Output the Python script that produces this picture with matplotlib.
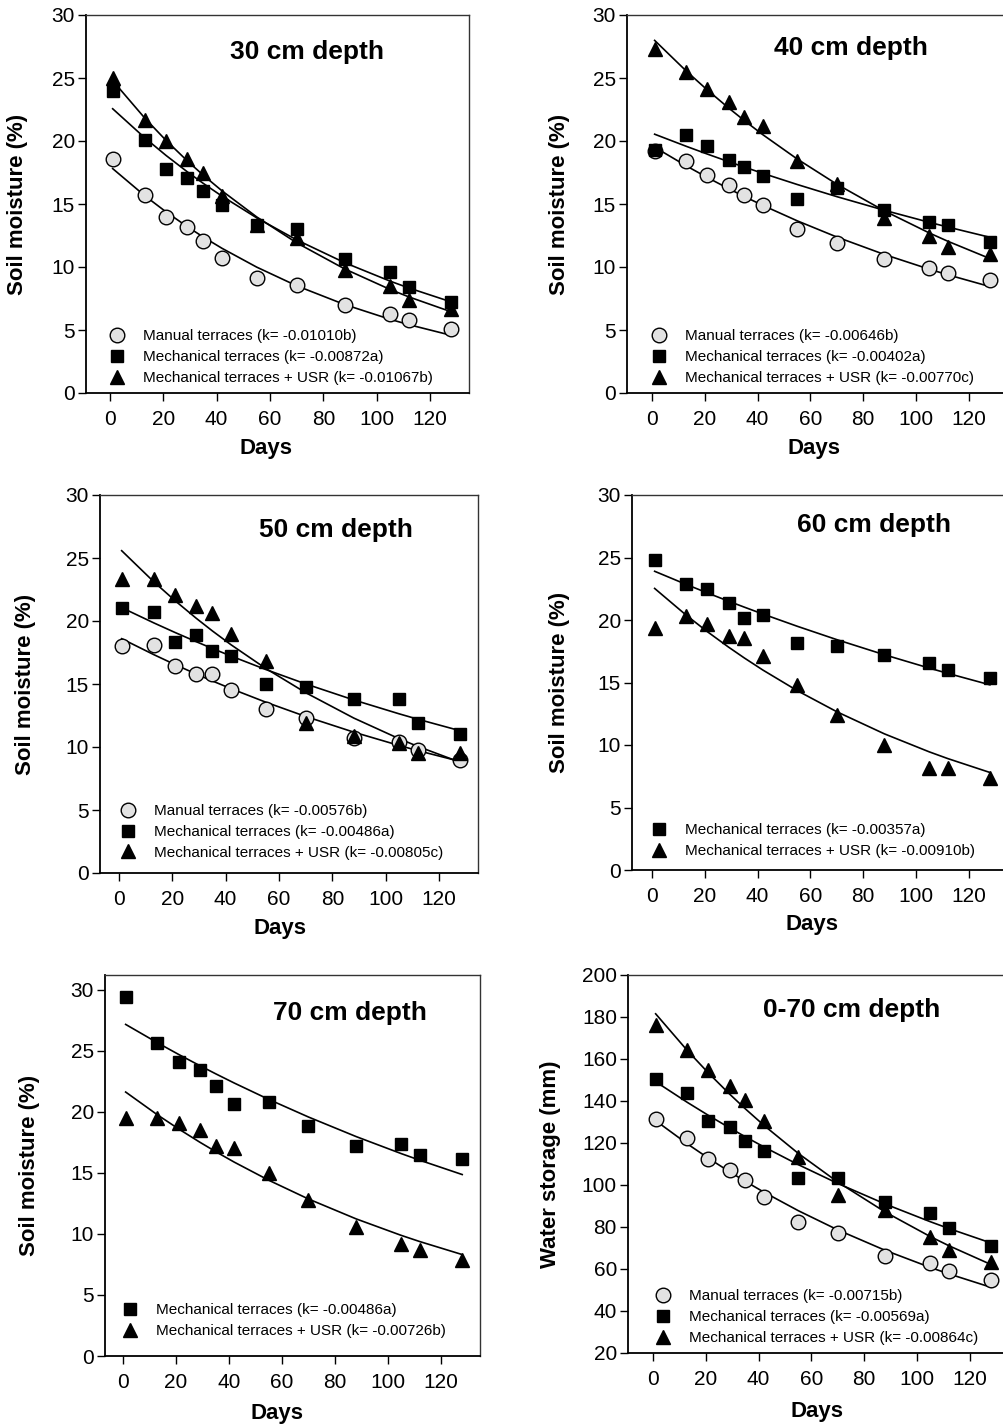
import numpy as np
import matplotlib
matplotlib.use('Agg')
import matplotlib.pyplot as plt
from matplotlib.lines import Line2D

plt.rcParams['font.family'] = ['Liberation Sans', 'DejaVu Sans']

# sampling days (same for every panel)
days = [1, 13, 21, 29, 35, 42, 55, 70, 88, 105, 112, 128]

# 30 cm depth, soil moisture (%)
manual_30 = [18.6, 15.7, 14.0, 13.2, 12.1, 10.7, 9.1, 8.6, 7.0, 6.3, 5.8, 5.1]
mech_30 = [24.0, 20.1, 17.8, 17.1, 16.0, 14.9, 13.3, 13.0, 10.6, 9.6, 8.4, 7.2]
usr_30 = [25.0, 21.7, 20.0, 18.6, 17.5, 15.6, 13.3, 12.3, 9.8, 8.5, 7.4, 6.7]
k_30 = ['-0.01010b', '-0.00872a', '-0.01067b']

# 40 cm depth
manual_40 = [19.2, 18.4, 17.3, 16.5, 15.7, 14.9, 13.0, 11.9, 10.6, 9.9, 9.5, 9.0]
mech_40 = [19.3, 20.5, 19.6, 18.5, 17.9, 17.2, 15.4, 16.3, 14.5, 13.6, 13.3, 12.0]
usr_40 = [27.3, 25.5, 24.1, 23.1, 21.9, 21.2, 18.4, 16.6, 13.9, 12.5, 11.6, 11.0]
k_40 = ['-0.00646b', '-0.00402a', '-0.00770c']

# 50 cm depth
manual_50 = [18.0, 18.1, 16.4, 15.8, 15.8, 14.5, 13.0, 12.3, 10.7, 10.4, 9.8, 9.0]
mech_50 = [21.0, 20.7, 18.3, 18.9, 17.6, 17.2, 15.0, 14.8, 13.8, 13.8, 11.9, 11.0]
usr_50 = [23.3, 23.3, 22.1, 21.2, 20.6, 19.0, 16.8, 11.9, 10.9, 10.3, 9.5, 9.5]
k_50 = ['-0.00576b', '-0.00486a', '-0.00805c']

# 60 cm depth
mech_60 = [24.8, 22.9, 22.5, 21.4, 20.2, 20.4, 18.2, 17.9, 17.2, 16.6, 16.0, 15.4]
usr_60 = [19.4, 20.3, 19.7, 18.7, 18.6, 17.1, 14.8, 12.4, 10.0, 8.2, 8.2, 7.4]
k_60 = ['-0.00357a', '-0.00910b']

# 70 cm depth
mech_70 = [29.4, 25.6, 24.1, 23.4, 22.1, 20.6, 20.8, 18.8, 17.2, 17.4, 16.5, 16.1]
usr_70 = [19.5, 19.5, 19.1, 18.5, 17.2, 17.0, 15.0, 12.8, 10.6, 9.2, 8.7, 7.9]
k_70 = ['-0.00486a', '-0.00726b']

# 0-70 cm depth, water storage (mm)
manual_all = [131.2, 122.5, 112.3, 107.1, 102.3, 94.2, 82.4, 77.2, 66.2, 62.9, 59.1, 54.6]
mech_all = [150.4, 143.6, 130.6, 127.7, 120.9, 116.1, 103.1, 103.1, 91.7, 86.9, 79.3, 71.0]
usr_all = [176.2, 164.3, 155.0, 147.1, 140.4, 130.4, 113.1, 95.2, 88.0, 75.3, 68.9, 63.4]
k_all = ['-0.00715b', '-0.00569a', '-0.00864c']

names = {'manual': 'Manual terraces',
         'mech': 'Mechanical terraces',
         'usr': 'Mechanical terraces + USR'}
styles = {'manual': dict(marker='o', mfc='#e2e2e2', mec='black', ms=10.5, mew=1.0),
          'mech': dict(marker='s', mfc='black', mec='black', ms=9, mew=1.0),
          'usr': dict(marker='^', mfc='black', mec='black', ms=10.5, mew=1.0)}

W, H = 1004, 1425

panels = [
    dict(box=(86, 15, 469, 393), x0=110, ppd=2.667, ylim=(0, 30), yticks=range(0, 31, 5),
         title='30 cm depth', tpos=(0.577, 0.902), ylabel='Soil moisture (%)', ylx=-0.151,
         xlx=(0.47, -0.119),
         series=[('manual', manual_30), ('mech', mech_30), ('usr', usr_30)], ks=k_30, leg=(0.061, 0.021)),
    dict(box=(627, 15, 1008, 393), x0=652, ppd=2.64, ylim=(0, 30), yticks=range(0, 31, 5),
         title='40 cm depth', tpos=(0.588, 0.913), ylabel='Soil moisture (%)', ylx=-0.150,
         xlx=(0.49, -0.119),
         series=[('manual', manual_40), ('mech', mech_40), ('usr', usr_40)], ks=k_40, leg=(0.064, 0.021)),
    dict(box=(100, 495, 478, 873), x0=119, ppd=2.667, ylim=(0, 30), yticks=range(0, 31, 5),
         title='50 cm depth', tpos=(0.624, 0.907), ylabel='Soil moisture (%)', ylx=-0.169,
         xlx=(0.476, -0.119),
         series=[('manual', manual_50), ('mech', mech_50), ('usr', usr_50)], ks=k_50, leg=(0.054, 0.035)),
    dict(box=(632, 495, 1008, 870), x0=652, ppd=2.64, ylim=(0, 30), yticks=range(0, 31, 5),
         title='60 cm depth', tpos=(0.644, 0.92), ylabel='Soil moisture (%)', ylx=-0.165,
         xlx=(0.48, -0.117),
         series=[('mech', mech_60), ('usr', usr_60)], ks=k_60, leg=(0.052, 0.032)),
    dict(box=(105, 975, 480, 1356), x0=123, ppd=2.65, ylim=(0, 31.2), yticks=range(0, 31, 5),
         title='70 cm depth', tpos=(0.653, 0.90), ylabel='Soil moisture (%)', ylx=-0.173,
         xlx=(0.458, -0.123),
         series=[('mech', mech_70), ('usr', usr_70)], ks=k_70, leg=(0.047, 0.047)),
    dict(box=(628, 975, 1008, 1353), x0=653, ppd=2.64, ylim=(20, 200), yticks=range(20, 201, 20),
         title='0-70 cm depth', tpos=(0.589, 0.907), ylabel='Water storage (mm)', ylx=-0.176,
         xlx=(0.497, -0.127),
         series=[('manual', manual_all), ('mech', mech_all), ('usr', usr_all)], ks=k_all, leg=(0.072, 0.021)),
]

fig = plt.figure(figsize=(W / 100, H / 100), dpi=100)
t = np.array(days, dtype=float)

for p in panels:
    l, tp, r, b = p['box']
    ax = fig.add_axes([l / W, 1 - b / H, (r - l) / W, (b - tp) / H])
    ax.set_xlim((l - p['x0']) / p['ppd'], (r - p['x0']) / p['ppd'])
    ax.set_ylim(*p['ylim'])

    handles, labels = [], []
    for (key, vals), k in zip(p['series'], p['ks']):
        y = np.array(vals, dtype=float)
        # exponential decay fit, y = a*exp(k*t), least squares (log fit weighted by y)
        kk, la = np.polyfit(t, np.log(y), 1, w=y)
        ax.plot(t, np.exp(la + kk * t), color='black', lw=1.2, zorder=2)
        ax.plot(t, y, ls='none', zorder=3, **styles[key])
        handles.append(Line2D([], [], ls='none', **styles[key]))
        labels.append('%s (k= %s)' % (names[key], k))

    ax.legend(handles, labels, loc='lower left', bbox_to_anchor=p['leg'], frameon=False,
              fontsize=11, handlelength=1.0, handletextpad=1.2, labelspacing=0.45,
              borderpad=0, borderaxespad=0)

    ax.text(p['tpos'][0], p['tpos'][1], p['title'], transform=ax.transAxes,
            ha='center', va='center', fontsize=19, fontweight='bold')

    ax.set_xticks(range(0, 121, 20))
    ax.set_yticks(list(p['yticks']))
    ax.tick_params(direction='out', length=6, width=1.0, labelsize=15)
    ax.tick_params(axis='x', pad=6)
    ax.tick_params(axis='y', pad=2)
    for s in ['left', 'bottom']:
        ax.spines[s].set_linewidth(1.3)
    for s in ['top', 'right']:
        ax.spines[s].set_linewidth(1.0)
        ax.spines[s].set_color('#333333')

    ax.set_xlabel('Days', fontsize=16, fontweight='bold')
    ax.set_ylabel(p['ylabel'], fontsize=16, fontweight='bold')
    ax.xaxis.set_label_coords(*p['xlx'])
    ax.yaxis.set_label_coords(p['ylx'], 0.5)

fig.savefig('out.png', dpi=100)
